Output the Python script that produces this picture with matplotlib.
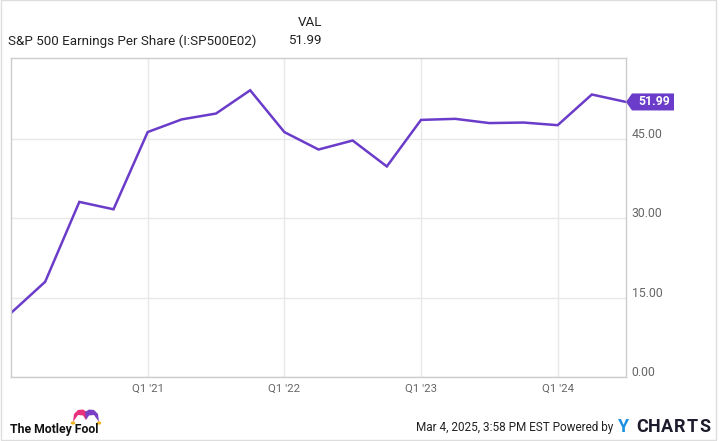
import matplotlib
matplotlib.use("Agg")
import matplotlib.pyplot as plt
from matplotlib.patches import Rectangle, Polygon, Circle
from matplotlib.transforms import Affine2D, ScaledTranslation

plt.rcParams['font.family'] = ['Roboto', 'DejaVu Sans']

# quarterly S&P 500 EPS, Q1 2020 .. Q3 2024
quarters = ["Q1 '20", "Q2 '20", "Q3 '20", "Q4 '20",
            "Q1 '21", "Q2 '21", "Q3 '21", "Q4 '21",
            "Q1 '22", "Q2 '22", "Q3 '22", "Q4 '22",
            "Q1 '23", "Q2 '23", "Q3 '23", "Q4 '23",
            "Q1 '24", "Q2 '24", "Q3 '24"]
eps = [12.1, 18.0, 33.1, 31.7,
       46.3, 48.7, 49.8, 54.2,
       46.3, 43.0, 44.7, 39.8,
       48.6, 48.8, 48.0, 48.1,
       47.6, 53.4, 51.99]
tick_labels = ["Q1 '21", "Q1 '22", "Q1 '23", "Q1 '24"]
y_ticks = [0, 15, 30, 45]

purple = '#6a3cc9'
grid_c = '#e8e8e8'
spine_c = '#cccccc'

fig = plt.figure(figsize=(7.2, 4.41), dpi=100)
ax = fig.add_axes([11 / 720, 1 - 377 / 441, 615 / 720, 319 / 441])

x = list(range(len(eps)))
ax.plot(x, eps, color=purple, lw=1.8, solid_joinstyle='miter')

ax.set_xlim(0, len(eps) - 1)
ax.set_ylim(0, 60.3)
ax.set_xticks([quarters.index(t) for t in tick_labels])
ax.set_xticklabels(tick_labels)
ax.set_yticks(y_ticks)
ax.set_yticklabels([f"{v:.2f}" for v in y_ticks])
ax.yaxis.tick_right()
ax.tick_params(axis='both', length=0, colors='#666666')
ax.tick_params(axis='x', pad=5, labelsize=8.2)
ax.tick_params(axis='y', pad=4, labelsize=8.8)
shift = ScaledTranslation(0, -1.5 / 72, fig.dpi_scale_trans)
for lbl in ax.get_yticklabels():
    lbl.set_verticalalignment('bottom')
    lbl.set_transform(lbl.get_transform() + shift)
ax.grid(True, color=grid_c, lw=1)
ax.set_axisbelow(True)
for s in ax.spines.values():
    s.set_color(spine_c)
    s.set_linewidth(1)

# last value tag: pentagon pointing at the last point (pixel offsets)
last = eps[-1]
px, py = ax.transData.transform((x[-1], last))
tag = Polygon([(0, 0), (6, 8.5), (48, 8.5), (48, -8.5), (6, -8.5)], closed=True,
              fc=purple, ec='none', transform=Affine2D().translate(px, py),
              clip_on=False)
fig.add_artist(tag)
fig.text((px + 28) / 720, py / 441, f"{last:.2f}", color='white', fontsize=8.8,
         fontweight='bold', ha='center', va='center')

# header
fig.text(8 / 720, 1 - 41 / 441, "S&P 500 Earnings Per Share (I:SP500E02)",
         fontsize=9.6, color='#222222', va='center')
fig.text(322 / 720, 1 - 22 / 441, "VAL", fontsize=9.6, color='#222222',
         va='center', ha='right')
fig.text(322 / 720, 1 - 41 / 441, f"{last:.2f}", fontsize=9.6, color='#222222',
         va='center', ha='right')

# footer
fig.text(10 / 720, 1 - 429 / 441, "The Motley Fool", fontsize=8.8,
         fontweight='bold', color='#111111', va='center')


def to_fig(pts):
    return [(a / 720, 1 - b / 441) for a, b in pts]


# jester hat, two lobes
pink = [(73, 422), (74, 414), (78, 410), (83, 409.5), (87, 412), (86, 420),
        (83, 415.5), (78, 415)]
violet = [(99, 422), (98, 414), (94, 410), (89, 409.5), (85, 412), (86, 420),
          (89, 415.5), (94, 415)]
fig.add_artist(Polygon(to_fig(pink), closed=True, fc='#e8317a', ec='none',
                       transform=fig.transFigure))
fig.add_artist(Polygon(to_fig(violet), closed=True, fc='#7b3fc6', ec='none',
                       transform=fig.transFigure))
for cx in (73, 99):
    fig.add_artist(Circle((cx / 720, 1 - 423 / 441), 1.5 / 720,
                          color='#f2b31b', transform=fig.transFigure))

fig.text(613 / 720, 1 - 428 / 441, "Mar 4, 2025, 3:58 PM EST Powered by",
         fontsize=8.5, color='#222222', va='center', ha='right')
fig.text(624 / 720, 1 - 427.5 / 441, "Y", fontsize=13, fontweight='bold',
         color='#1a90e0', va='center', ha='center')
for i, ch in enumerate("CHARTS"):
    fig.text((642 + 12.6 * i) / 720, 1 - 427.5 / 441, ch, fontsize=13,
             fontweight='bold', color='#1b1b2b', va='center', ha='center')

# outer frame
fig.add_artist(Rectangle((0.001, 0.002), 0.993, 0.997, fill=False, ec='#dddddd',
                         lw=1, transform=fig.transFigure))

fig.savefig("out.png", dpi=100, facecolor='white')
